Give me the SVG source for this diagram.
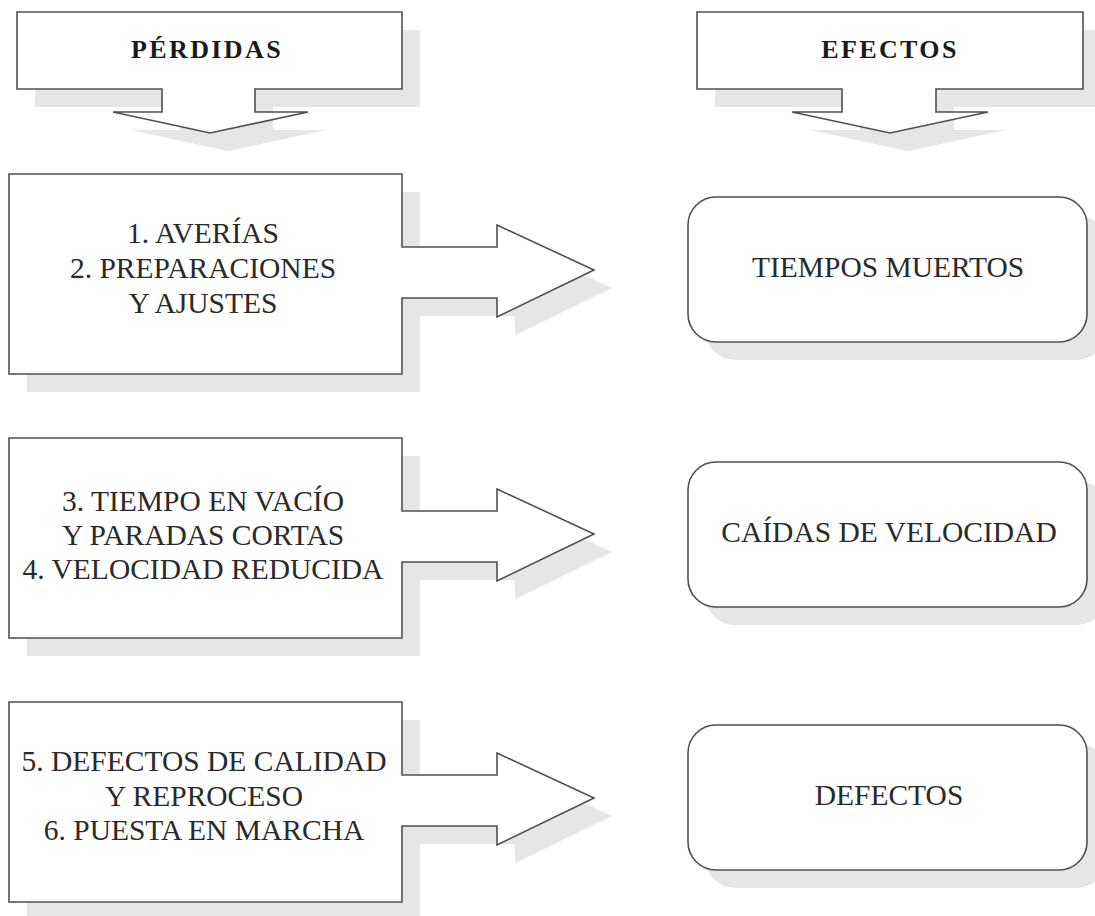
<svg xmlns="http://www.w3.org/2000/svg" xmlns:xlink="http://www.w3.org/1999/xlink" width="1095" height="916" viewBox="0 0 1095 916">
<style>
.bg{fill:#ffffff}
.sh{fill:#e6e6e6;stroke:none}
.box{fill:#ffffff;stroke:#505050;stroke-width:1.6;stroke-linejoin:miter}
.hd{font-family:"Liberation Serif","Times New Roman",serif;font-weight:bold;font-size:26px;letter-spacing:2.4px;fill:#1a1a1a;text-anchor:middle}
.tx{font-family:"Liberation Serif","Times New Roman",serif;font-size:29.5px;fill:#2a2a2a;text-anchor:middle}
.ef{font-family:"Liberation Serif","Times New Roman",serif;font-size:29.5px;fill:#2a2a2a;text-anchor:middle}
</style>
<defs>
<polygon id="callL" points="17,12 402,12 402,89 255,89 255,112 308,112 210,133 113,112 162,112 162,89 17,89"/>
<polygon id="callR" points="697,12 1083,12 1083,89 936,89 936,112 988,112 890,133 792,112 842,112 842,89 697,89"/>
<polygon id="arrow" points="9,0 402,0 402,73 497,73 497,51 594,96 497,143 497,124 402,124 402,200 9,200"/>
<rect id="rbox" x="688" y="0" width="399" height="145" rx="28" ry="28"/>
</defs>
<rect class="bg" x="0" y="0" width="1095" height="916"/>

<g id="perdidas">
<use xlink:href="#callL" class="sh" transform="translate(18,18)"/>
<use xlink:href="#callL" class="box"/>
<text class="hd" x="207" y="58">PÉRDIDAS</text>
</g>

<g id="efectos">
<use xlink:href="#callR" class="sh" transform="translate(18,18)"/>
<use xlink:href="#callR" class="box"/>
<text class="hd" x="890" y="58">EFECTOS</text>
</g>

<g id="perdida1">
<use xlink:href="#arrow" class="sh" transform="translate(18,192)"/>
<use xlink:href="#arrow" class="box" transform="translate(0,174)"/>
<text class="tx" x="203" y="243">1. AVERÍAS</text>
<text class="tx" x="203" y="278">2. PREPARACIONES</text>
<text class="tx" x="203" y="313">Y AJUSTES</text>
</g>

<g id="perdida2">
<use xlink:href="#arrow" class="sh" transform="translate(18,456)"/>
<use xlink:href="#arrow" class="box" transform="translate(0,438)"/>
<text class="tx" x="203" y="511">3. TIEMPO EN VACÍO</text>
<text class="tx" x="203" y="545">Y PARADAS CORTAS</text>
<text class="tx" x="203" y="579">4. VELOCIDAD REDUCIDA</text>
</g>

<g id="perdida3">
<use xlink:href="#arrow" class="sh" transform="translate(18,720)"/>
<use xlink:href="#arrow" class="box" transform="translate(0,702)"/>
<text class="tx" x="204" y="771">5. DEFECTOS DE CALIDAD</text>
<text class="tx" x="204" y="806">Y REPROCESO</text>
<text class="tx" x="204" y="840">6. PUESTA EN MARCHA</text>
</g>

<g id="efecto1">
<use xlink:href="#rbox" class="sh" transform="translate(18,215)"/>
<use xlink:href="#rbox" class="box" transform="translate(0,197)"/>
<text class="ef" x="888" y="277">TIEMPOS MUERTOS</text>
</g>

<g id="efecto2">
<use xlink:href="#rbox" class="sh" transform="translate(18,480)"/>
<use xlink:href="#rbox" class="box" transform="translate(0,462)"/>
<text class="ef" x="889" y="542">CAÍDAS DE VELOCIDAD</text>
</g>

<g id="efecto3">
<use xlink:href="#rbox" class="sh" transform="translate(18,743)"/>
<use xlink:href="#rbox" class="box" transform="translate(0,725)"/>
<text class="ef" x="889" y="805">DEFECTOS</text>
</g>

<g id="connectors"></g>
</svg>
